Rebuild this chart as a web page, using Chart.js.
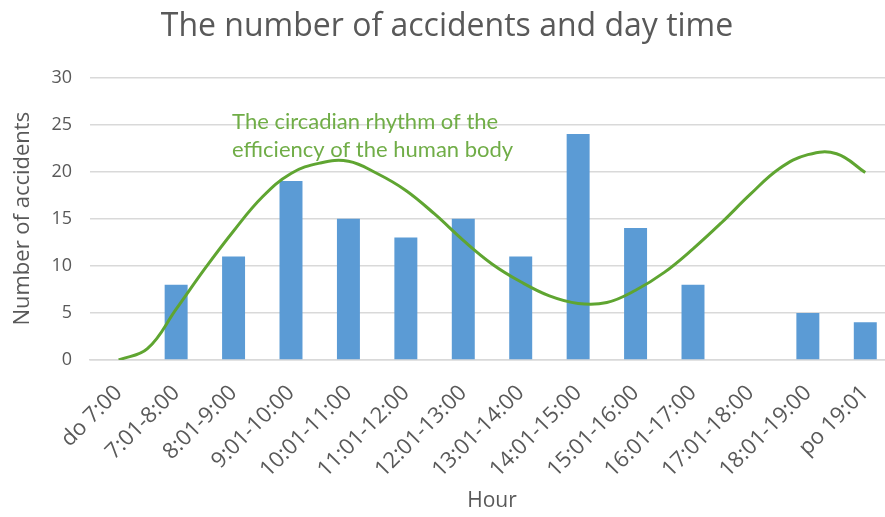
<!DOCTYPE html>
<html>
<head>
<meta charset="utf-8">
<script src="https://cdn.jsdelivr.net/npm/chart.js@4/dist/chart.umd.min.js"></script>
<style>
  html, body { margin: 0; padding: 0; background: #fff; overflow: hidden; }
  .wrap { width: 885px; height: 517px; overflow: hidden; }
</style>
</head>
<body>
<div class="wrap"><canvas id="accidentsChart" width="894" height="517"></canvas></div>
<script>
// Hour ranges on the x axis
const hours = ['do 7:00', '7:01-8:00', '8:01-9:00', '9:01-10:00', '10:01-11:00', '11:01-12:00',
    '12:01-13:00', '13:01-14:00', '14:01-15:00', '15:01-16:00', '16:01-17:00', '17:01-18:00',
    '18:01-19:00', 'po 19:01'];

// Number of accidents per hour range
const accidents = [0, 8, 11, 19, 15, 13, 15, 11, 24, 14, 8, 0, 5, 4];

// Circadian efficiency curve, every half category
const curvePos = [0, 0.5, 1, 1.5, 2, 2.5, 3, 3.5, 4, 4.5, 5, 5.5, 6, 6.5,
    7, 7.5, 8, 8.5, 9, 9.5, 10, 10.5, 11, 11.5, 12, 12.5, 13];
const curveVal = [0, 1.2, 5.4, 9.7, 13.7, 17.3, 19.8, 20.9, 21.1, 19.8, 18, 15.5, 12.7, 10.2,
    8.3, 6.8, 6.0, 6.1, 7.4, 9.3, 11.8, 14.6, 17.6, 20.3, 21.8, 21.9, 19.9];

const yTicks = [0, 5, 10, 15, 20, 25, 30];

const annotationLines = ['The circadian rhythm of the', 'efficiency of the human body'];

const gray = '#595959';
const grid = '#d9d9d9';
const green = '#5fa531';

// Draws the green note next to the curve
const curveNote = {
    id: 'curveNote',
    afterDatasetsDraw(chart) {
        const { ctx, scales } = chart;
        const x = scales.x.getPixelForValue(2) - 1.5;
        ctx.save();
        ctx.fillStyle = '#70ad47';
        ctx.font = '22px Lato';
        ctx.textAlign = 'left';
        ctx.textBaseline = 'middle';
        ctx.fillText(annotationLines[0], x, scales.y.getPixelForValue(25.3));
        ctx.fillText(annotationLines[1], x, scales.y.getPixelForValue(22.3));
        ctx.restore();
    }
};

new Chart(document.getElementById('accidentsChart'), {
    data: {
        labels: hours,
        datasets: [{
            type: 'line',
            label: 'Circadian rhythm',
            data: curvePos.map((p, i) => ({ x: p, y: curveVal[i] })),
            xAxisID: 'xc',
            borderColor: green,
            borderWidth: 3,
            tension: 0.4,
            pointRadius: 0,
            fill: false,
            order: 0
        }, {
            type: 'bar',
            label: 'Accidents',
            data: accidents,
            xAxisID: 'x',
            backgroundColor: '#5b9bd5',
            grouped: false,
            barPercentage: 0.4,
            categoryPercentage: 1,
            order: 1
        }]
    },
    options: {
        responsive: false,
        animation: false,
        layout: { padding: 0 },
        plugins: {
            legend: { display: false },
            tooltip: { enabled: false },
            title: {
                display: true,
                text: 'The number of accidents and day time',
                color: gray,
                font: { family: 'Open Sans', size: 32, weight: 'normal' },
                padding: { top: 8, bottom: 31 }
            }
        },
        scales: {
            x: {
                grid: { display: false, drawTicks: false },
                border: { color: grid, width: 1.5 },
                ticks: {
                    color: gray,
                    font: { family: 'Open Sans', size: 22 },
                    minRotation: 45,
                    maxRotation: 45,
                    padding: 20
                },
                title: {
                    display: true,
                    text: 'Hour',
                    color: gray,
                    font: { family: 'Open Sans', size: 21 },
                    padding: { top: 0, bottom: 3 }
                },
                afterFit(scale) {
                    scale.height = 157;
                    scale.paddingLeft = 0;
                    scale.paddingRight = 0;
                }
            },
            xc: {
                type: 'linear',
                display: false,
                min: -0.5,
                max: 13.5
            },
            y: {
                min: 0,
                max: 30,
                afterBuildTicks(scale) { scale.ticks = yTicks.map(v => ({ value: v })); },
                grid: { color: grid, lineWidth: 1.5, drawTicks: false },
                border: { display: false },
                ticks: {
                    color: gray,
                    font: { family: 'Open Sans', size: 18 },
                    padding: 18
                },
                title: {
                    display: true,
                    text: 'Number of accidents',
                    color: gray,
                    font: { family: 'Open Sans', size: 22 },
                    padding: { top: 10, bottom: 0 }
                },
                afterFit(scale) { scale.width = 90; }
            }
        }
    },
    plugins: [curveNote]
});
</script>
</body>
</html>
